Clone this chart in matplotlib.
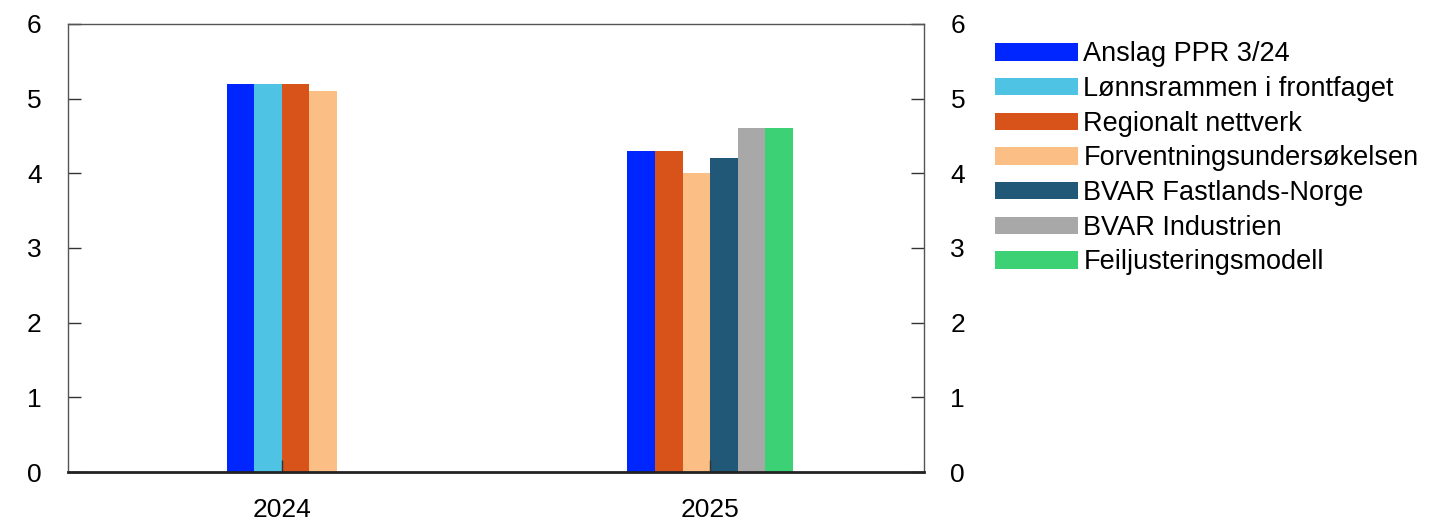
import matplotlib.pyplot as plt
import numpy as np

plt.rcParams['font.family'] = ['Liberation Sans', 'DejaVu Sans']

years = ["2024", "2025"]
series = ["Anslag PPR 3/24", "Lønnsrammen i frontfaget", "Regionalt nettverk",
          "Forventningsundersøkelsen", "BVAR Fastlands-Norge", "BVAR Industrien",
          "Feiljusteringsmodell"]
colors = ["#0026FF", "#4EC3E3", "#D75319", "#FBBF85", "#215877", "#A8A8A8", "#3CD175"]

# None = no value for that year
anslag = [5.2, 4.3]
lonnsrammen = [5.2, None]
regionalt = [5.2, 4.3]
forventning = [5.1, 4.0]
bvar_fastland = [None, 4.2]
bvar_industri = [None, 4.6]
feiljust = [None, 4.6]
values = [anslag, lonnsrammen, regionalt, forventning, bvar_fastland, bvar_industri, feiljust]

fig = plt.figure(figsize=(14.45, 5.31), dpi=100)
ax = fig.add_axes([0.047, 0.111, 0.5925, 0.844])

w = 0.0643
handles = [None] * len(series)
for j in range(len(years)):
    present = [i for i in range(len(series)) if values[i][j] is not None]
    n = len(present)
    for k, i in enumerate(present):
        x = j + (k - (n - 1) / 2) * w
        b = ax.bar(x, values[i][j], width=w, color=colors[i], linewidth=0)
        handles[i] = b

ax.set_xlim(-0.5, 1.5)
ax.set_ylim(0, 6)
ax.set_xticks(range(len(years)))
ax.set_xticklabels(years)
ax.set_yticks(range(7))
ax.tick_params(axis='y', direction='in', length=9.5, width=1, labelsize=19,
               left=True, right=True, labelleft=True, labelright=True, pad=19, colors='#333333',
               labelcolor='black')
ax.tick_params(axis='x', direction='in', length=8.5, width=1, labelsize=19, pad=18.5,
               colors='#333333', labelcolor='black')
for s in ['top', 'left', 'right']:
    ax.spines[s].set_color('#555555')
    ax.spines[s].set_linewidth(1)
ax.spines['bottom'].set_color('#222222')
ax.spines['bottom'].set_linewidth(2)

ax.legend(handles, series, loc='upper left', bbox_to_anchor=(1.07, 0.985), frameon=False,
          fontsize=19.5, handlelength=3.07, handleheight=0.6, handletextpad=0.2,
          labelspacing=0.32, borderaxespad=0)

fig.savefig("out.png", dpi=100)
